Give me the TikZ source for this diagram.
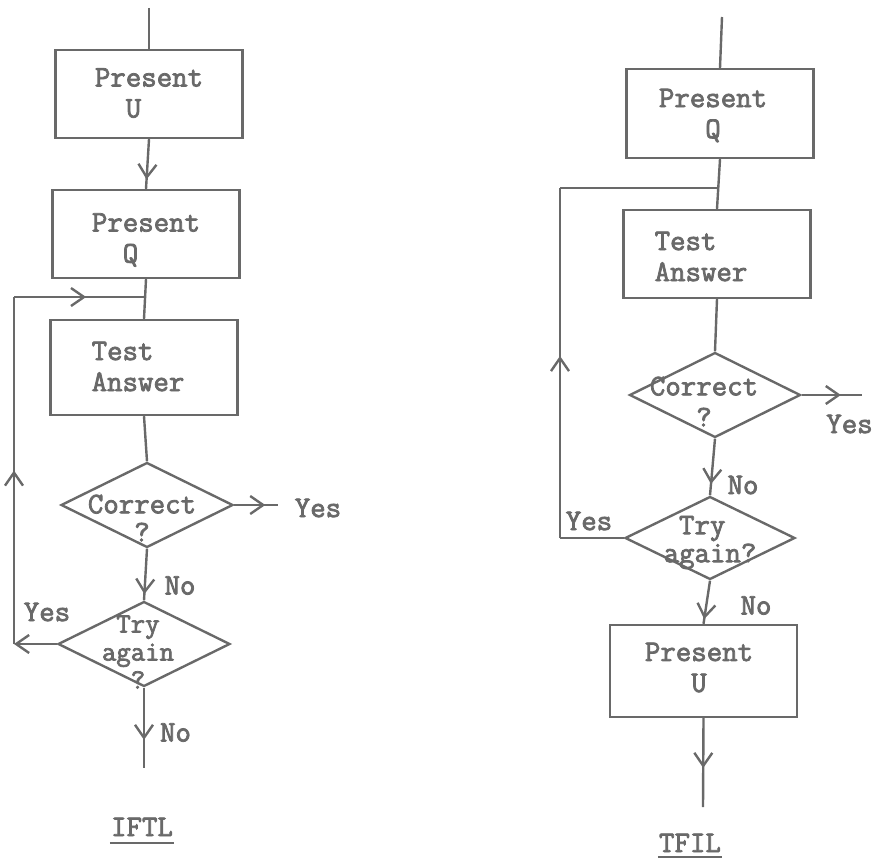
\documentclass[tikz,border=0pt]{standalone}
\usepackage{fontspec}
\setmonofont{Latin Modern Mono}[FakeBold=2.6]
\usetikzlibrary{arrows.meta,shapes.geometric,decorations.markings,calc}
\definecolor{ink}{RGB}{105,105,105}
\begin{document}
\begin{tikzpicture}[x=1pt,y=1pt,line width=2.4pt,
  every node/.style={text=ink,font=\ttfamily\fontsize{30}{31}\selectfont},
  box/.style={draw=ink,rectangle,minimum width=187pt,minimum height=88pt,inner sep=0pt},
  dia/.style={draw=ink,diamond,minimum width=172pt,minimum height=85pt,inner sep=0pt},
  txt/.style={align=left,inner sep=0pt},
  flow/.style={draw=ink,line width=2.4pt},
  barb/.tip={Straight Barb[length=13pt,width=18pt]},
  tipat/.style={postaction={decorate},decoration={markings,
    mark=at position #1 with {\arrow{Straight Barb[length=13pt,width=18pt]}}}},
  uline/.style={draw=ink,line width=1.8pt}]
\useasboundingbox (0,0) rectangle (873,-861);

% ---------- IFTL ----------
\node[box] (pu1) at (149,-94) {};
\node[txt] (pu1t) at (149,-93) {Present\\\phantom{XX}U};
\node[box] (pq1) at (146,-234) {};
\node[txt] (pq1t) at (146,-240) {Present\\\phantom{XX}Q};
\node[box,minimum height=95pt] (ta1) at (144,-367.5) {};
\node[txt] (ta1t) at (138,-366.5) {Test\\Answer};
\node[dia] (co1) at (147,-505) {};
\node[txt,font=\ttfamily\fontsize{30}{28}\selectfont] (co1t) at (142,-518) {Correct\\\phantom{XXX}?};
\node[dia] (tr1) at (144,-644) {};
\node[txt,font=\ttfamily\fontsize{28}{28}\selectfont] (tr1t) at (138,-652) {\phantom{X}Try\\again\\\phantom{XX}?};

\coordinate (t1) at (149,-8);
\coordinate (y1) at (278,-505);
\coordinate (e1) at (144,-768);
\coordinate (jl) at ($(pq1.south)!0.45!(ta1.north)$);
\coordinate (cl2) at (14,-644);
\coordinate (cl1) at (cl2 |- jl);

\draw[flow] (t1) -- (pu1.north);
\draw[flow,tipat=0.81] (pu1.south) -- (pq1.north);
\draw[flow] (pq1.south) -- (ta1.north);
\draw[flow] (ta1.south) -- (co1.north);
\draw[flow,tipat=0.71] (co1.east) -- (y1);
\draw[flow,tipat=0.88] (co1.south) -- (tr1.north);
\draw[flow,-barb] (tr1.west) -- (cl2);
\draw[flow,tipat=0.5] (cl2) -- (cl1);
\draw[flow,tipat=0.55] (cl1) -- (jl);
\draw[flow,tipat=0.65] (tr1.south) -- (e1);

\node[txt] (yes1) at (318,-508) {Yes};
\node[txt] (no1) at (180,-585.5) {No};
\node[txt] (yes2) at (47,-612) {Yes};
\node[txt] (no2) at (175.5,-732.5) {No};
\node[txt,anchor=base] (iftl) at (142,-836) {IFTL};
\draw[uline] ([yshift=-7pt]iftl.base west) -- ([yshift=-7pt]iftl.base east);

% ---------- TFIL ----------
\node[box,minimum height=89pt] (pq2) at (720,-113.5) {};
\node[txt] (pq2t) at (713,-115.5) {Present\\\phantom{XXX}Q};
\node[box] (ta2) at (717,-254) {};
\node[txt] (ta2t) at (701,-256.5) {Test\\Answer};
\node[dia,minimum width=171pt] (co2) at (715,-395) {};
\node[txt] (co2t) at (704,-401.5) {Correct\\\phantom{XXX}?};
\node[dia,minimum width=170pt,minimum height=83pt] (tr2) at (710,-538) {};
\node[txt,font=\ttfamily\fontsize{30}{28}\selectfont] (tr2t) at (710,-542.5) {\phantom{X}Try\\again?};
\node[box,minimum height=92pt] (pu2) at (703.5,-671) {};
\node[txt] (pu2t) at (699,-667.5) {Present\\\phantom{XXX}U};

\coordinate (t2) at (722,-17);
\coordinate (y2) at (862,-395);
\coordinate (e2) at (703,-807);
\coordinate (jr) at ($(pq2.south)!0.58!(ta2.north)$);
\coordinate (cr2) at (560,-538);
\coordinate (cr1) at (cr2 |- jr);

\draw[flow] (t2) -- (pq2.north);
\draw[flow] (pq2.south) -- (ta2.north);
\draw[flow] (ta2.south) -- (co2.north);
\draw[flow,tipat=0.65] (co2.east) -- (y2);
\draw[flow,tipat=0.8] (co2.south) -- (tr2.north);
\draw[flow] (tr2.west) -- (cr2);
\draw[flow,tipat=0.52] (cr2) -- (cr1);
\draw[flow] (cr1) -- (jr);
\draw[flow,tipat=0.89] (tr2.south) -- (pu2.north);
\draw[flow,tipat=0.56] (pu2.south) -- (e2);

\node[txt] (yes3) at (849.5,-424) {Yes};
\node[txt] (no3) at (743,-485) {No};
\node[txt] (yes4) at (589,-521) {Yes};
\node[txt] (no4) at (756,-605.5) {No};
\node[txt,anchor=base] (tfil) at (690,-852) {TFIL};
\draw[uline] ([yshift=-5pt]tfil.base west) -- ([yshift=-5pt]tfil.base east);
\end{tikzpicture}
\end{document}
